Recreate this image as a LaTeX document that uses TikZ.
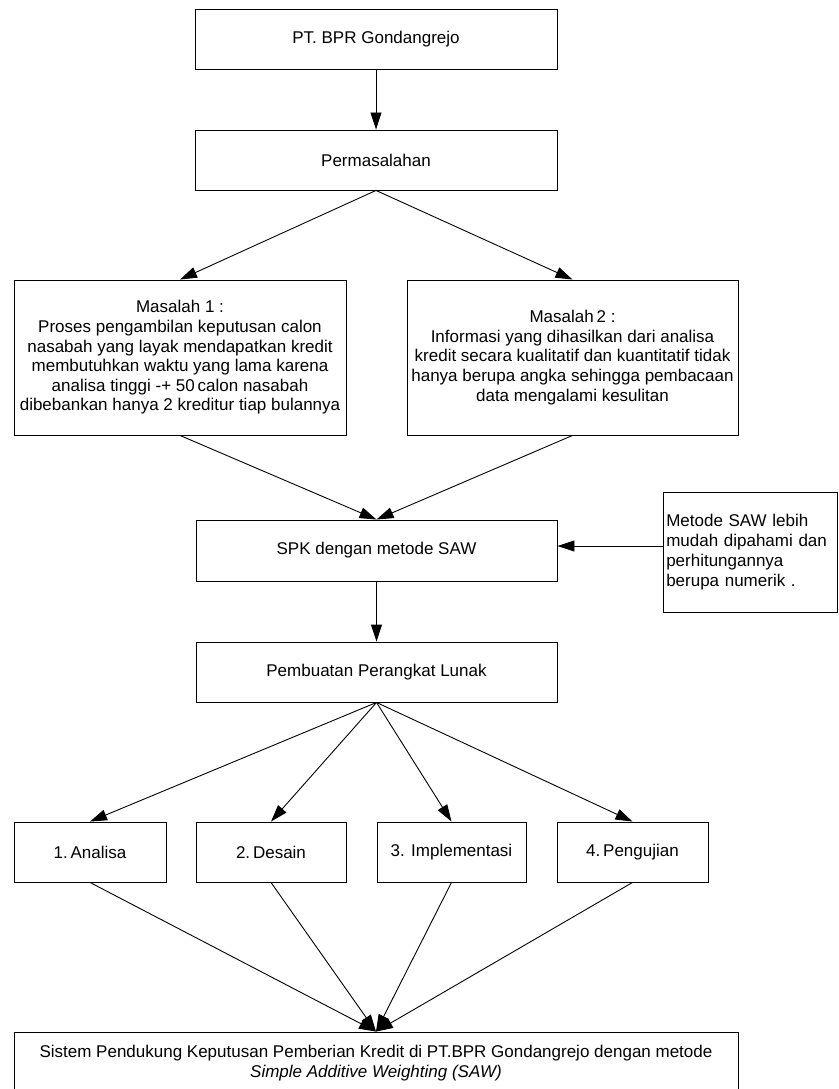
\documentclass[tikz,border=0pt]{standalone}
\usepackage{fontspec}
\setmainfont{Liberation Sans}
\usetikzlibrary{arrows.meta}
\begin{document}
\begin{tikzpicture}[x=1pt,y=-1pt,
  box/.style={draw, line width=0.9pt, inner sep=0pt, align=center,
    font=\fontsize{17pt}{19.6pt}\selectfont},
  arr/.style={-{Triangle[length=17pt,width=11pt]}, line width=0.9pt}]
\useasboundingbox (0,0) rectangle (838,1089);
\node[box, minimum width=362pt, minimum height=60pt] (pt) at (376,39) {PT. BPR Gondangrejo};
\node[box, minimum width=362pt, minimum height=60pt] (perm) at (376,160) {Permasalahan};
\node[box, minimum width=332pt, minimum height=155pt] (m1) at (180,357.5)
  {Masalah 1 :\\Proses pengambilan keputusan calon\\nasabah yang layak mendapatkan kredit\\membutuhkan waktu yang lama karena\\analisa tinggi -+ 50\,calon nasabah\\dibebankan hanya 2 kreditur tiap bulannya};
\node[box, minimum width=331pt, minimum height=155pt] (m2) at (572.5,357.5)
  {Masalah\,2 :\\Informasi yang dihasilkan dari analisa\\kredit secara kualitatif dan kuantitatif tidak\\hanya berupa angka sehingga pembacaan\\data mengalami kesulitan};
\node[box, minimum width=361pt, minimum height=61pt] (spk) at (376.5,550.5) {SPK dengan metode SAW};
\node[box, minimum width=174.5pt, minimum height=120pt, align=left, text width=168pt,
  font=\fontsize{17pt}{20pt}\selectfont] (side) at (750.25,552)
  {Metode SAW lebih\\mudah dipahami dan\\perhitungannya\\berupa numerik .};
\node[box, minimum width=361pt, minimum height=60pt] (perl) at (376.5,672) {Pembuatan Perangkat Lunak};
\node[box, minimum width=152pt, minimum height=60pt] (b1) at (90,852) {1.\,Analisa};
\node[box, minimum width=150pt, minimum height=60pt] (b2) at (271,852) {2.\,Desain};
\node[box, minimum width=149pt, minimum height=60pt] (b3) at (451.5,852) {3. Implementasi};
\node[box, minimum width=151pt, minimum height=60pt] (b4) at (632.5,852) {4.\,Pengujian};
\node[box, minimum width=724pt, minimum height=62pt] (fin) at (376,1063)
  {Sistem Pendukung Keputusan Pemberian Kredit di PT.BPR Gondangrejo dengan metode\\\textit{Simple Additive Weighting (SAW)}};

\draw[arr] (pt) -- (perm);
\draw[arr] (perm.south) -- (m1.north);
\draw[arr] (perm.south) -- (m2.north);
\draw[arr] (m1.south) -- (spk.north);
\draw[arr] (m2.south) -- (spk.north);
\draw[arr] ([yshift=6pt]side.west) -- ([yshift=4.5pt]spk.east);
\draw[arr] (spk) -- (perl);
\draw[arr] (perl.south) -- (b1.north);
\draw[arr] (perl.south) -- (b2.north);
\draw[arr] (perl.south) -- (b3.north);
\draw[arr] (perl.south) -- (b4.north);
\draw[arr] (b1.south) -- (fin.north);
\draw[arr] (b2.south) -- (fin.north);
\draw[arr] (b3.south) -- (fin.north);
\draw[arr] (b4.south) -- (fin.north);
\end{tikzpicture}
\end{document}
